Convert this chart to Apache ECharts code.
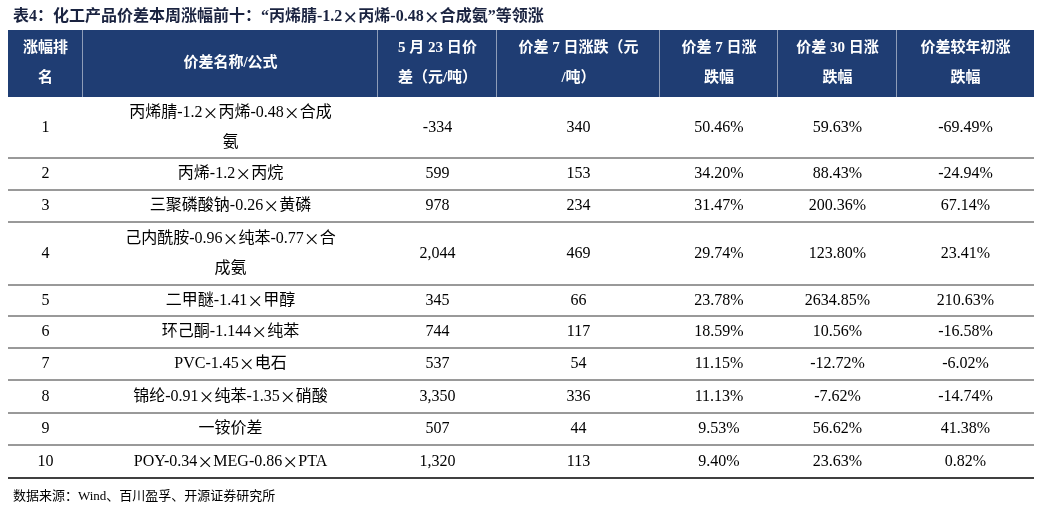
<!DOCTYPE html>
<html><head><meta charset="utf-8">
<script src="https://cdn.jsdelivr.net/npm/echarts@6/dist/echarts.min.js"></script>
<style>html,body{margin:0;padding:0;background:#fff}#c{width:1042px;height:509px}</style>
</head><body><div id="c"></div>
<script>
const title = '表4：化工产品价差本周涨幅前十：“丙烯腈-1.2×丙烯-0.48×合成氨”等领涨';
const source = '数据来源：Wind、百川盈孚、开源证券研究所';
const headers = ['涨幅排\n名','价差名称/公式','5 月 23 日价\n差（元/吨）','价差 7 日涨跌（元\n/吨）','价差 7 日涨\n跌幅','价差 30 日涨\n跌幅','价差较年初涨\n跌幅'];
const ranks = ['1','2','3','4','5','6','7','8','9','10'];
const names = ['丙烯腈-1.2×丙烯-0.48×合成\n氨','丙烯-1.2×丙烷','三聚磷酸钠-0.26×黄磷','己内酰胺-0.96×纯苯-0.77×合\n成氨','二甲醚-1.41×甲醇','环己酮-1.144×纯苯','PVC-1.45×电石','锦纶-0.91×纯苯-1.35×硝酸','一铵价差','POY-0.34×MEG-0.86×PTA'];
const spread = ['-334','599','978','2,044','345','744','537','3,350','507','1,320'];
const change7 = ['340','153','234','469','66','117','54','336','44','113'];
const pct7 = ['50.46%','34.20%','31.47%','29.74%','23.78%','18.59%','11.15%','11.13%','9.53%','9.40%'];
const pct30 = ['59.63%','88.43%','200.36%','123.80%','2634.85%','10.56%','-12.72%','-7.62%','56.62%','23.63%'];
const pctYtd = ['-69.49%','-24.94%','67.14%','23.41%','210.63%','-16.58%','-6.02%','-14.74%','41.38%','0.82%'];

const colEdges = [8,83,378,497,660,778,897,1034];
const rowEdges = [30,97,158,190,222,285,316,348,380,413,445,478];
const cols = [ranks,names,spread,change7,pct7,pct30,pctYtd];
const cells = [];
for (let c=0;c<7;c++){ cells.push([c,0,headers[c]]); for(let r=0;r<10;r++) cells.push([c,r+1,cols[c][r]]); }
const FONT = '"Liberation Serif","Noto Sans CJK SC",serif';
const CJK = '"Noto Sans CJK SC"';
const richX = s => s.split('\n').map(l => l.split('×').map(p => p ? '{a|'+p+'}' : '').join('{x|×}')).join('\n');
const chart = echarts.init(document.getElementById('c'));
chart.setOption({
  animation:false,
  title:[{text:richX(title),left:8,top:4,textStyle:{rich:{a:{fontSize:16,fontWeight:'bold',color:'#1a2340',fontFamily:FONT},x:{fontSize:16,fontWeight:'bold',color:'#1a2340',fontFamily:CJK}}}},
         {text:source,left:8,top:485,textStyle:{fontSize:13,fontWeight:'normal',color:'#000',fontFamily:FONT}}],
  grid:{left:0,right:0,top:0,bottom:0},
  xAxis:{type:'value',min:0,max:1042,show:false},
  yAxis:{type:'value',min:0,max:509,inverse:true,show:false},
  series:[{type:'custom',data:cells,renderItem:function(params,api){
    const c=api.value(0), r=api.value(1), txt=cells[params.dataIndex][2];
    const p0=api.coord([colEdges[c],rowEdges[r]]), p1=api.coord([colEdges[c+1],rowEdges[r+1]]);
    const w=p1[0]-p0[0], h=p1[1]-p0[1];
    const ch=[];
    if(r===0){
      ch.push({type:'rect',shape:{x:p0[0],y:p0[1],width:w,height:h},style:{fill:'#1f3d73'}});
      if(c<6) ch.push({type:'line',shape:{x1:p1[0],y1:p0[1],x2:p1[0],y2:p1[1]},style:{stroke:'#fff',lineWidth:1}});
    } else {
      ch.push({type:'line',shape:{x1:p0[0],y1:p1[1],x2:p1[0],y2:p1[1]},style:{stroke:'#000',lineWidth:r===10?1.5:0.8}});
    }
    const base={fill:r===0?'#fff':'#000',fontSize:r===0?15:16,fontWeight:r===0?'bold':'normal',lineHeight:30};
    ch.push({type:'text',style:{text:richX(txt),x:p0[0]+w/2,y:p0[1]+h/2,align:'center',verticalAlign:'middle',
      rich:{a:Object.assign({fontFamily:FONT},base),x:Object.assign({fontFamily:CJK},base)}}});
    return {type:'group',children:ch};
  }}]
});
</script></body></html>
